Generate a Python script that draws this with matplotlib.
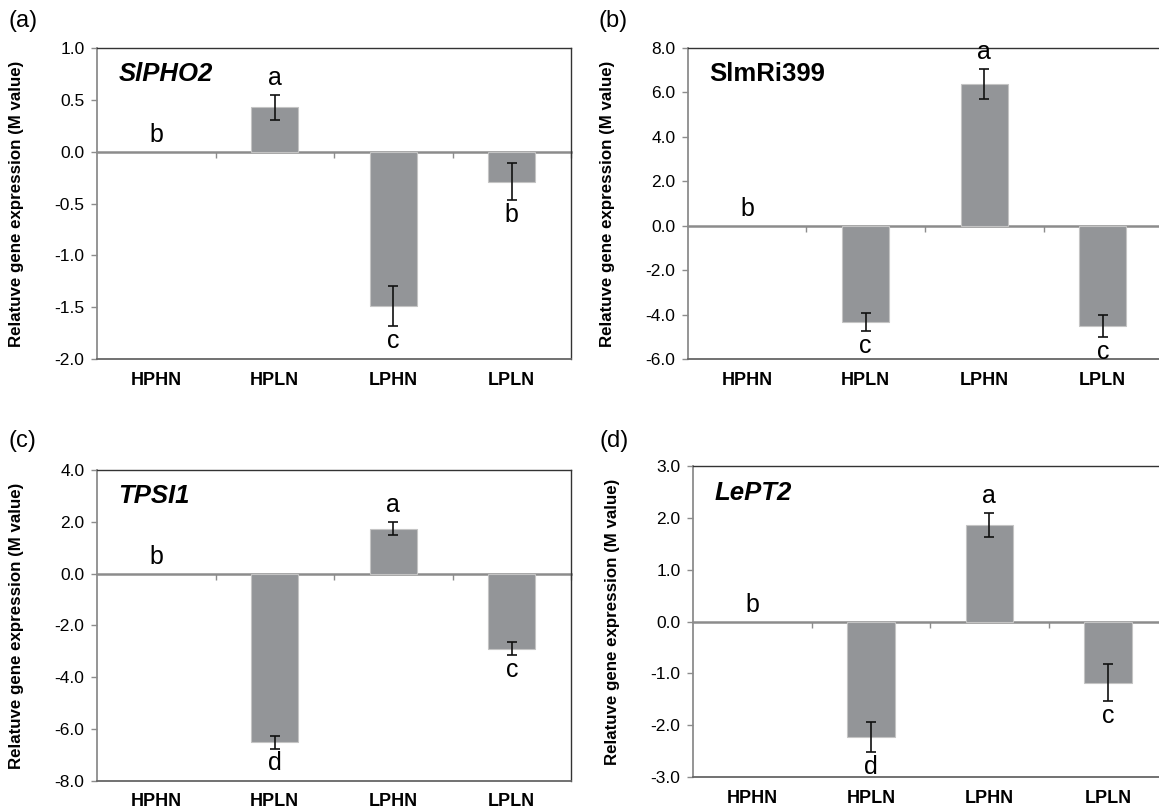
import matplotlib
matplotlib.use("Agg")
import matplotlib.pyplot as plt

plt.rcParams['font.family'] = ['Liberation Sans', 'DejaVu Sans']
plt.rcParams['axes.unicode_minus'] = False

# data
categories = ["HPHN", "HPLN", "LPHN", "LPLN"]

pho2_vals = [0.0, 0.43, -1.49, -0.29]
pho2_err = [0.0, 0.12, 0.19, 0.18]
pho2_letters = ["b", "a", "c", "b"]

mir399_vals = [0.0, -4.35, 6.38, -4.52]
mir399_err = [0.0, 0.40, 0.67, 0.48]
mir399_letters = ["b", "c", "a", "c"]

tpsi1_vals = [0.0, -6.50, 1.74, -2.90]
tpsi1_err = [0.0, 0.25, 0.25, 0.25]
tpsi1_letters = ["b", "d", "a", "c"]

lept2_vals = [0.0, -2.23, 1.87, -1.18]
lept2_err = [0.0, 0.29, 0.23, 0.36]
lept2_letters = ["b", "d", "a", "c"]

panels = [
    # tag, gene, italic, values, errors, letters, (ymin, ymax, step), axes rect
    ("(a)", "SlPHO2", True, pho2_vals, pho2_err, pho2_letters, (-2.0, 1.0, 0.5),
     [0.0837, 0.5573, 0.409, 0.3835]),
    ("(b)", "SlmRi399", False, mir399_vals, mir399_err, mir399_letters, (-6.0, 8.0, 2.0),
     [0.5936, 0.5573, 0.409, 0.3835]),
    ("(c)", "TPSI1", True, tpsi1_vals, tpsi1_err, tpsi1_letters, (-8.0, 4.0, 2.0),
     [0.0837, 0.0370, 0.409, 0.3835]),
    ("(d)", "LePT2", True, lept2_vals, lept2_err, lept2_letters, (-3.0, 3.0, 1.0),
     [0.5980, 0.0419, 0.409, 0.3830]),
]
tag_pos = [(0.007, 0.988), (0.516, 0.988), (0.007, 0.470), (0.517, 0.470)]

bar_color = "#939598"
axis_gray = "#8c8c8c"

fig = plt.figure(figsize=(11.59, 8.11), dpi=100)

for (tag, gene, italic, vals, errs, letters, (lo, hi, step), rect), tp in zip(panels, tag_pos):
    ax = fig.add_axes(rect)
    x = list(range(len(categories)))

    ax.bar(x, vals, width=0.4, color=bar_color, edgecolor="#c4c4c4",
           linewidth=[0 if v == 0 else 0.8 for v in vals], zorder=2)
    ax.errorbar(x[1:], vals[1:], yerr=errs[1:], fmt="none", ecolor="#111111",
                elinewidth=1.2, capsize=3.3, capthick=1.2, zorder=3)

    ax.set_xlim(-0.5, len(categories) - 0.5)
    ax.set_ylim(lo, hi)
    nt = int(round((hi - lo) / step)) + 1
    ax.set_yticks([lo + i * step for i in range(nt)])
    ax.yaxis.set_major_formatter(matplotlib.ticker.FormatStrFormatter("%.1f"))
    ax.tick_params(axis="y", direction="out", length=4, width=1, color=axis_gray,
                   labelsize=12.5, pad=5)
    ax.set_xticks(x)
    ax.set_xticklabels(categories, fontweight="bold", fontsize=13)
    ax.tick_params(axis="x", length=0, pad=9)

    ax.spines["left"].set_color(axis_gray)
    ax.spines["left"].set_linewidth(1.3)
    ax.spines["bottom"].set_color("#666666")
    ax.spines["bottom"].set_linewidth(1.3)
    for s in ["top", "right"]:
        ax.spines[s].set_color("#333333")
        ax.spines[s].set_linewidth(1.0)

    # category axis crossing at zero, with ticks between groups
    sec = ax.secondary_xaxis((0 - lo) / (hi - lo))
    sec.set_alignment("bottom")
    sec.set_xticks([i + 0.5 for i in x])
    sec.set_xticklabels([])
    sec.tick_params(axis="x", direction="out", length=4, width=1, color=axis_gray)
    sec.spines["bottom"].set_color(axis_gray)
    sec.spines["bottom"].set_linewidth(1.8)

    ax.set_ylabel("Relatuve gene expression (M value)", fontweight="bold", fontsize=12.2)
    ax.yaxis.set_label_coords(-0.155, 0.5)

    ax.text(0.045, 0.915, gene, transform=ax.transAxes, fontsize=18.5, fontweight="bold",
            fontstyle="italic" if italic else "normal", va="center", ha="left")

    for i, (v, e, let) in enumerate(zip(vals, errs, letters)):
        if v >= 0:
            ax.annotate(let, (i, v + e), xytext=(0, 7), textcoords="offset points",
                        ha="center", va="baseline", fontsize=18)
        else:
            ax.annotate(let, (i, v - e), xytext=(0, -2), textcoords="offset points",
                        ha="center", va="top", fontsize=18)

    fig.text(tp[0], tp[1], tag, fontsize=17, va="top", ha="left")

fig.savefig("out.png", dpi=100)
